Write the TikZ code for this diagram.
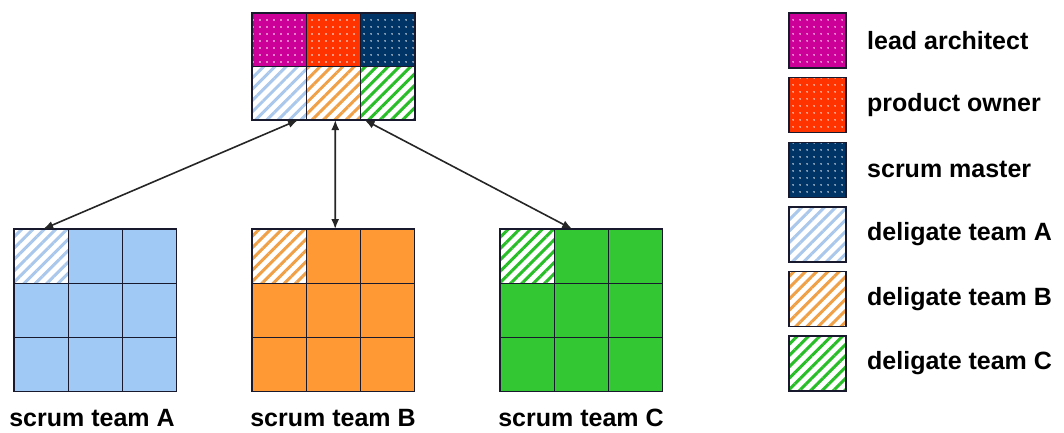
\documentclass[tikz,border=0pt]{standalone}
\usepackage{fontspec}
\setmainfont{Liberation Sans}
\usetikzlibrary{patterns.meta,arrows.meta,calc}
\definecolor{cMag}{RGB}{204,0,153}
\definecolor{cRed}{RGB}{255,51,0}
\definecolor{cNavy}{RGB}{0,51,102}
\definecolor{cA}{RGB}{160,202,245}
\definecolor{cB}{RGB}{255,153,51}
\definecolor{cC}{RGB}{51,200,51}
\definecolor{sA}{RGB}{170,200,235}
\definecolor{sB}{RGB}{240,160,70}
\definecolor{sC}{RGB}{40,190,40}
\definecolor{edge}{RGB}{25,25,45}
\begin{document}
\begin{tikzpicture}[x=1pt,y=-1pt,
  cell/.style={draw=edge, line width=1.4pt, minimum width=54.2pt, minimum height=54.2pt,
    inner sep=0pt, outer sep=0pt, anchor=north west},
  dotted cell/.style={cell, preaction={fill=#1}, pattern={Dots[distance=6.5pt,radius=0.9pt]}, pattern color=white},
  striped cell/.style={cell, preaction={fill=white}, pattern={Lines[angle=45,distance=8pt,line width=3pt]}, pattern color=#1},
  plain cell/.style={cell, fill=#1},
  keybox/.style={minimum width=57pt, minimum height=55pt},
  conn/.style={{Latex[length=10pt,width=8pt]}-{Latex[length=10pt,width=8pt]}, line width=1.6pt, draw=black!85},
  label/.style={font=\bfseries\fontsize{25}{30}\selectfont, inner sep=0pt},
  keylabel/.style={label, anchor=west}
]
\useasboundingbox (0,0) rectangle (1064,432);

% top grid
\node[dotted cell=cMag, minimum height=53.5pt] (t11) at (252,13) {};
\node[dotted cell=cRed, minimum height=53.5pt] (t12) at (306.3,13) {};
\node[dotted cell=cNavy, minimum height=53.5pt] (t13) at (360.6,13) {};
\node[striped cell=sA, minimum height=53.5pt] (t21) at (252,66.5) {};
\node[striped cell=sB, minimum height=53.5pt] (t22) at (306.3,66.5) {};
\node[striped cell=sC, minimum height=53.5pt] (t23) at (360.6,66.5) {};

% teams
\foreach \t/\x/\c/\s in {A/14/cA/sA, B/252/cB/sB, C/500/cC/sC}{
  \foreach \r in {0,1,2}{
    \foreach \k in {0,1,2}{
      \pgfmathtruncatemacro{\isfirst}{(\r==0)&&(\k==0)}
      \ifnum\isfirst=1
        \node[striped cell=\s] (\t\r\k) at ({\x+54.2*\k},{229+54.2*\r}) {};
      \else
        \node[plain cell=\c] (\t\r\k) at ({\x+54.2*\k},{229+54.2*\r}) {};
      \fi
    }
  }
}

% team labels
\node[label] (lA) at (92,418) {scrum team A};
\node[label] (lB) at (333,418) {scrum team B};
\node[label] (lC) at (581,418) {scrum team C};

% connectors
\coordinate (pA) at ($(t21.south west)+(46,0)$);
\coordinate (pB) at ($(t22.south west)+(29,0)$);
\coordinate (pC) at ($(t23.south west)+(4,0)$);
\coordinate (qA) at ($(A01.north west)+(-25,0)$);
\coordinate (qB) at ($(B01.north west)+(29,0)$);
\coordinate (qC) at ($(C01.north west)+(18,0)$);
\draw[conn] (pA) -- (qA);
\draw[conn] (pB) -- (qB);
\draw[conn] (pC) -- (qC);

% legend
\node[dotted cell=cMag, keybox] (key0) at (789,13) {};
\node[dotted cell=cRed, keybox] (key1) at (789,77.6) {};
\node[dotted cell=cNavy, keybox] (key2) at (789,142.2) {};
\node[striped cell=sA, keybox] (key3) at (789,206.8) {};
\node[striped cell=sB, keybox] (key4) at (789,271.4) {};
\node[striped cell=sC, keybox] (key5) at (789,336) {};
\node[keylabel] (kt0) at ($(key0.east)+(21,0)$) {lead architect};
\node[keylabel] (kt1) at ($(key1.east)+(21,0)$) {product owner};
\node[keylabel] (kt2) at ($(key2.east)+(21,0)$) {scrum master};
\node[keylabel] (kt3) at ($(key3.east)+(21,0)$) {deligate team A};
\node[keylabel] (kt4) at ($(key4.east)+(21,0)$) {deligate team B};
\node[keylabel] (kt5) at ($(key5.east)+(21,0)$) {deligate team C};
\end{tikzpicture}
\end{document}
